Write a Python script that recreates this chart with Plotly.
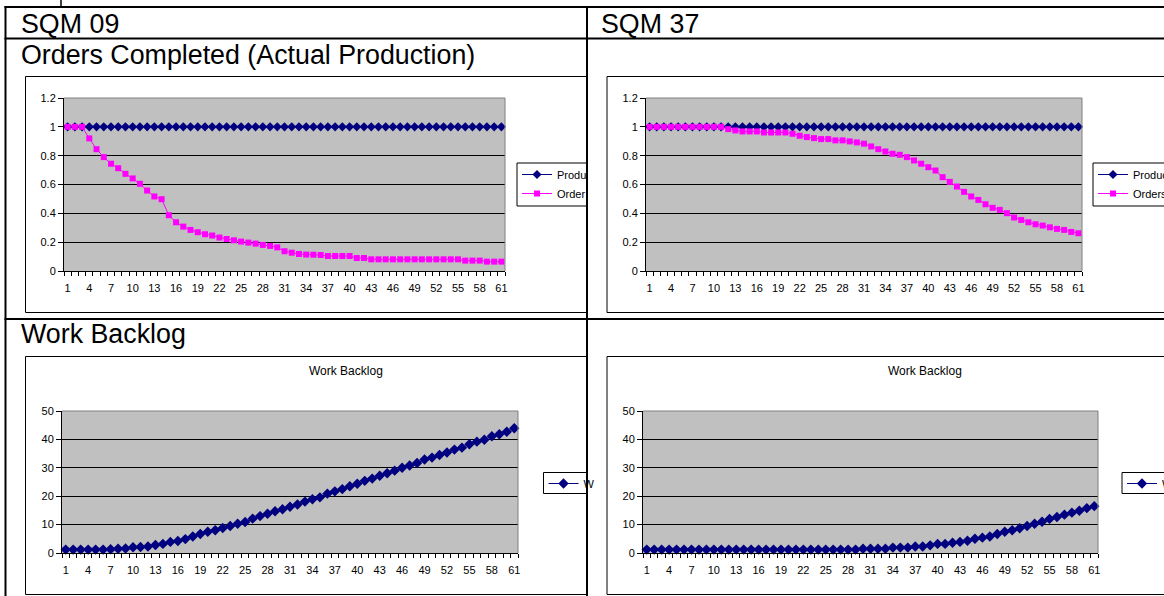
import plotly.graph_objects as go

# ---------------- data ----------------
periods = [1, 2, 3, 4, 5, 6, 7, 8, 9, 10, 11, 12, 13, 14, 15, 16, 17, 18, 19, 20,
           21, 22, 23, 24, 25, 26, 27, 28, 29, 30, 31, 32, 33, 34, 35, 36, 37, 38, 39, 40,
           41, 42, 43, 44, 45, 46, 47, 48, 49, 50, 51, 52, 53, 54, 55, 56, 57, 58, 59, 60, 61]

x_tick_labels = ["1", "4", "7", "10", "13", "16", "19", "22", "25", "28", "31", "34",
                 "37", "40", "43", "46", "49", "52", "55", "58", "61"]

sqm09_production = [1, 1, 1, 1, 1, 1, 1, 1, 1, 1, 1, 1, 1, 1, 1, 1, 1, 1, 1, 1,
                    1, 1, 1, 1, 1, 1, 1, 1, 1, 1, 1, 1, 1, 1, 1, 1, 1, 1, 1, 1,
                    1, 1, 1, 1, 1, 1, 1, 1, 1, 1, 1, 1, 1, 1, 1, 1, 1, 1, 1, 1, 1]

sqm09_orders = [1.0, 1.0, 1.0, 0.92, 0.845, 0.79, 0.744, 0.713, 0.674, 0.642,
                0.605, 0.558, 0.517, 0.498, 0.387, 0.338, 0.308, 0.285, 0.269, 0.255,
                0.246, 0.232, 0.222, 0.213, 0.204, 0.197, 0.19, 0.181, 0.174, 0.164,
                0.137, 0.127, 0.118, 0.114, 0.113, 0.111, 0.104, 0.104, 0.104, 0.104,
                0.09, 0.09, 0.081, 0.081, 0.081, 0.081, 0.081, 0.081, 0.081, 0.081,
                0.081, 0.081, 0.081, 0.081, 0.081, 0.072, 0.072, 0.072, 0.065, 0.065, 0.065]

sqm37_production = [1, 1, 1, 1, 1, 1, 1, 1, 1, 1, 1, 1, 1, 1, 1, 1, 1, 1, 1, 1,
                    1, 1, 1, 1, 1, 1, 1, 1, 1, 1, 1, 1, 1, 1, 1, 1, 1, 1, 1, 1,
                    1, 1, 1, 1, 1, 1, 1, 1, 1, 1, 1, 1, 1, 1, 1, 1, 1, 1, 1, 1, 1]

sqm37_orders = [1.0, 1.0, 1.0, 1.0, 1.0, 1.0, 1.0, 1.0, 1.0, 1.0,
                1.0, 0.984, 0.975, 0.968, 0.968, 0.968, 0.961, 0.961, 0.961, 0.961,
                0.952, 0.938, 0.929, 0.922, 0.915, 0.915, 0.906, 0.906, 0.899, 0.892,
                0.883, 0.864, 0.845, 0.829, 0.813, 0.806, 0.79, 0.767, 0.744, 0.72,
                0.697, 0.651, 0.618, 0.586, 0.549, 0.517, 0.493, 0.463, 0.438, 0.424,
                0.401, 0.371, 0.354, 0.338, 0.324, 0.315, 0.303, 0.292, 0.285, 0.271, 0.262]

sqm09_backlog = [1.2, 1.2, 1.2, 1.2, 1.2, 1.2, 1.3, 1.5, 1.6, 2.0,
                 2.1, 2.3, 2.8, 3.2, 3.9, 4.2, 4.9, 5.8, 6.7, 7.5,
                 8.0, 8.8, 9.5, 10.3, 10.9, 12.1, 13.0, 13.8, 14.7, 15.4,
                 16.3, 17.1, 18.1, 18.9, 19.6, 20.9, 21.7, 22.5, 23.5, 24.4,
                 25.4, 26.2, 27.2, 28.1, 29.0, 30.0, 30.8, 31.7, 32.9, 33.6,
                 34.5, 35.4, 36.4, 37.1, 38.3, 39.2, 39.9, 41.1, 41.8, 42.7, 43.9]

sqm37_backlog = [1.2, 1.2, 1.2, 1.2, 1.2, 1.2, 1.2, 1.2, 1.2, 1.2,
                 1.2, 1.2, 1.2, 1.2, 1.2, 1.2, 1.2, 1.2, 1.2, 1.2,
                 1.2, 1.2, 1.2, 1.2, 1.2, 1.2, 1.2, 1.2, 1.2, 1.5,
                 1.5, 1.5, 1.5, 1.9, 1.9, 1.9, 2.3, 2.3, 2.7, 3.2,
                 3.2, 3.6, 3.9, 4.3, 5.0, 5.4, 5.8, 6.7, 7.5, 8.0,
                 8.7, 9.5, 10.3, 11.0, 12.0, 12.7, 13.5, 14.2, 14.9, 15.8, 16.5]

# ---------------- layout helpers ----------------
W, H = 1164, 596
def PX(x):
    return x / W
def PY(y):
    return 1 - y / H

FONT = "Liberation Sans, Arial, sans-serif"
NAVY = "#000080"
MAGENTA = "#FF00FF"
SILVER = "#C0C0C0"

fig = go.Figure()

# panels: (axis suffix, plot-area px box, y range, dtick)
panels = [
    ("", (64, 505, 98, 271), [0, 1.2], 0.2),
    ("2", (646, 1082, 98, 271), [0, 1.2], 0.2),
    ("3", (62, 518, 411, 553), [0, 50], 10),
    ("4", (643, 1098, 411, 553), [0, 50], 10),
]

series = [
    ("", "Produ", sqm09_production, NAVY, "diamond", 7, "legend"),
    ("", "Order", sqm09_orders, MAGENTA, "square", 6, "legend"),
    ("2", "Produc", sqm37_production, NAVY, "diamond", 7, "legend2"),
    ("2", "Orders", sqm37_orders, MAGENTA, "square", 6, "legend2"),
    ("3", "W", sqm09_backlog, NAVY, "diamond", 8, "legend3"),
    ("4", "W", sqm37_backlog, NAVY, "diamond", 8, "legend4"),
]

for suf, name, vals, col, sym, size, leg in series:
    fig.add_trace(go.Scatter(
        x=periods, y=vals, name=name, mode="lines+markers",
        line=dict(color=col, width=1),
        marker=dict(symbol=sym, size=size, color=col, line=dict(width=0)),
        xaxis="x" + suf, yaxis="y" + suf, legend=leg, cliponaxis=False,
    ))

layout = dict(
    width=W, height=H,
    margin=dict(l=0, r=0, t=0, b=0, autoexpand=False),
    paper_bgcolor="white", plot_bgcolor=SILVER,
    hovermode=False,
    font=dict(family=FONT, color="black", size=11),
)

tickvals = [int(t) for t in x_tick_labels]
shapes = []
for suf, (x0, x1, y0, y1), yr, dt in panels:
    layout["xaxis" + suf] = dict(
        domain=[PX(x0), PX(x1)], anchor="y" + suf,
        range=[0.5, 61.5], tickmode="array", tickvals=tickvals, ticktext=x_tick_labels,
        ticks="outside", ticklen=7, tickcolor="rgba(0,0,0,0)",
        showgrid=False, zeroline=False, showline=True, linecolor="black", linewidth=1,
        tickfont=dict(family=FONT, size=11, color="black"),
        minor=dict(tickmode="linear", tick0=0.5, dtick=1, ticks="outside",
                   ticklen=4, tickcolor="black", tickwidth=1, showgrid=False),
        fixedrange=True,
    )
    layout["yaxis" + suf] = dict(
        domain=[PY(y1), PY(y0)], anchor="x" + suf,
        range=yr, tick0=0, dtick=dt, ticks="outside", ticklen=5, tickcolor="black",
        showgrid=True, gridcolor="black", gridwidth=1, zeroline=False,
        showline=True, linecolor="black", linewidth=1,
        tickfont=dict(family=FONT, size=11, color="black"),
        fixedrange=True,
    )
    # grey plot-area border on top / right
    shapes.append(dict(type="line", xref="paper", yref="paper",
                       x0=PX(x0), x1=PX(x1), y0=PY(y0), y1=PY(y0),
                       line=dict(color="#808080", width=1)))
    shapes.append(dict(type="line", xref="paper", yref="paper",
                       x0=PX(x1), x1=PX(x1), y0=PY(y0), y1=PY(y1),
                       line=dict(color="#808080", width=1)))

# chart frames (clipped by table column / page edge)
for (fx0, fx1, fy0, fy1) in [(25.5, 587, 76.5, 312.5), (607, 1175, 76.5, 312.5),
                             (25.5, 587, 356.5, 594.5), (607, 1175, 356.5, 594.5)]:
    shapes.append(dict(type="rect", xref="paper", yref="paper",
                       x0=PX(fx0), x1=PX(fx1), y0=PY(fy1), y1=PY(fy0),
                       line=dict(color="black", width=1), layer="below"))

# legend boxes
for (lx0, lx1, ly0, ly1) in [(517, 587, 163, 206), (1093, 1175, 163, 206),
                             (543.5, 587, 472.5, 493.5), (1122, 1175, 472.5, 493.5)]:
    shapes.append(dict(type="rect", xref="paper", yref="paper",
                       x0=PX(lx0), x1=PX(lx1), y0=PY(ly1), y1=PY(ly0),
                       line=dict(color="black", width=1), fillcolor="white", layer="below"))

# table lines
def hline(y, xa, xb, w=2):
    shapes.append(dict(type="line", xref="paper", yref="paper", x0=PX(xa), x1=PX(xb),
                       y0=PY(y), y1=PY(y), line=dict(color="black", width=w)))
def vline(x, ya, yb, w=2):
    shapes.append(dict(type="line", xref="paper", yref="paper", x0=PX(x), x1=PX(x),
                       y0=PY(ya), y1=PY(yb), line=dict(color="black", width=w)))

hline(7, 4.5, 1170)
hline(38.5, 4.5, 1170)
hline(319, 4.5, 1170)
vline(5.5, 6, 600)
vline(587, 6, 600)
vline(61, 0, 6.5, 1.5)

layout["shapes"] = shapes

# legends
for leg, lx, ly in [("legend", 517, 160), ("legend2", 1093, 160),
                    ("legend3", 543.5, 469), ("legend4", 1122, 469)]:
    layout[leg] = dict(x=PX(lx), y=PY(ly), xanchor="left", yanchor="top",
                       bgcolor="rgba(0,0,0,0)",
                       borderwidth=0, font=dict(family=FONT, size=11, color="black"),
                       tracegroupgap=0)

ann = []
def text(s, x, y, size, xanchor="left"):
    ann.append(dict(text=s, x=PX(x), y=PY(y), xref="paper", yref="paper",
                    xanchor=xanchor, yanchor="middle", showarrow=False,
                    font=dict(family=FONT, size=size, color="black")))

text("SQM 09", 18.5, 23.5, 26.8)
text("SQM 37", 599, 23.5, 26.8)
text("Orders Completed (Actual Production)", 18.5, 55.5, 26.8)
text("Work Backlog", 18.5, 334, 26.8)
text("Work Backlog", 345.5, 371, 12, "center")
text("Work Backlog", 925.5, 371, 12, "center")
layout["annotations"] = ann

fig.update_layout(**layout)
fig.write_html("out.html", config={"displayModeBar": False},
               post_script="document.body.style.margin='0px';document.body.style.padding='0px';")
